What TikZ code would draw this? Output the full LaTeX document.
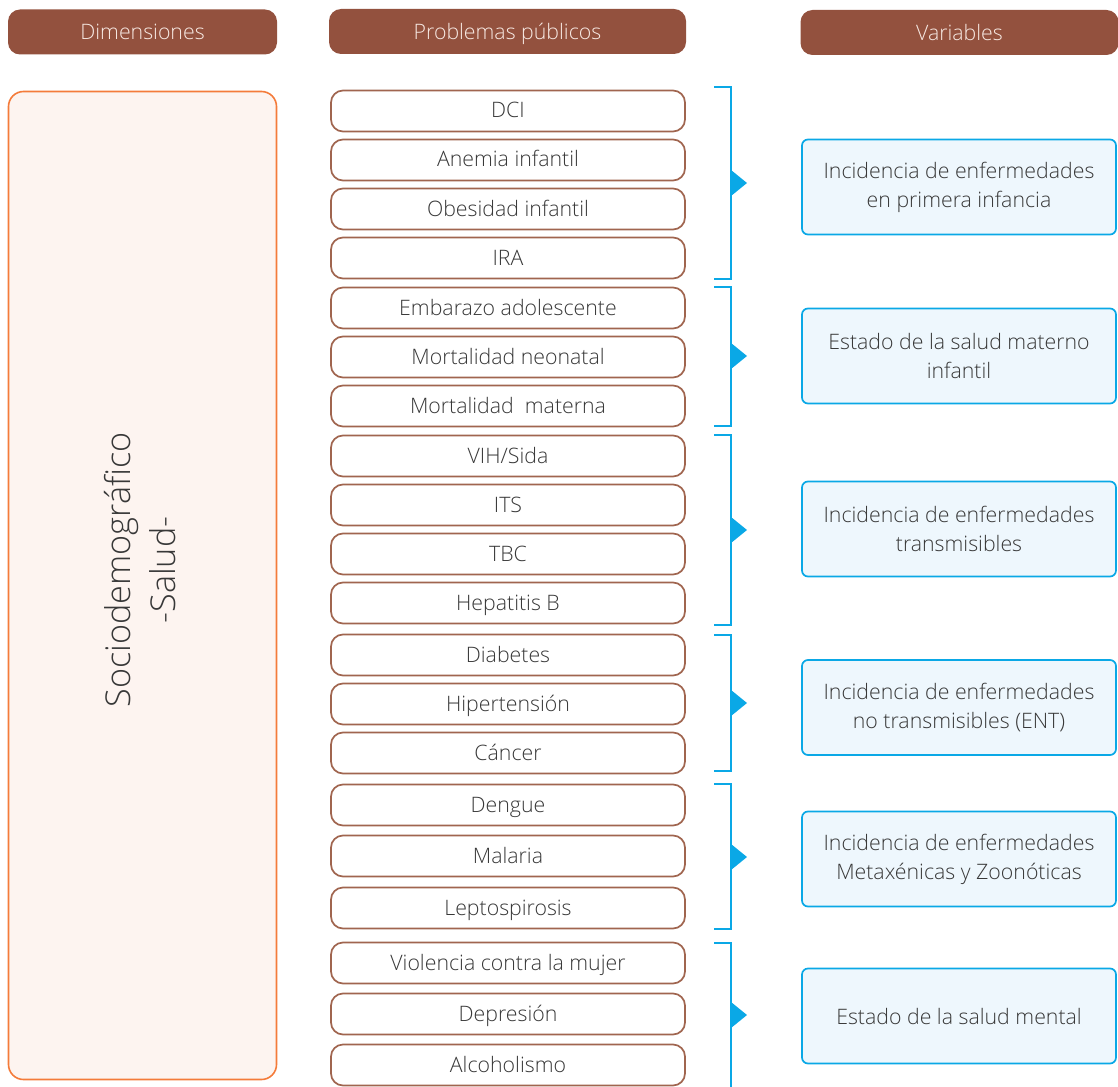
\documentclass[tikz,border=0pt]{standalone}
\usepackage{fontspec}
\setmainfont{Open Sans Light}
\usetikzlibrary{calc}
\definecolor{hdr}{HTML}{93513E}
\definecolor{hdrtxt}{HTML}{F7E9E3}
\definecolor{pbord}{HTML}{A0654F}
\definecolor{dimbord}{HTML}{F47B3A}
\definecolor{dimfill}{HTML}{FDF4F0}
\definecolor{blu}{HTML}{0AA8E6}
\definecolor{vfill}{HTML}{EEF7FD}
\definecolor{txt}{HTML}{383838}
\begin{document}
\begin{tikzpicture}[x=1pt,y=-1pt,
  hdrbox/.style={fill=hdr, rounded corners=12pt, minimum height=45pt, inner sep=0pt, text height=16pt, text depth=0pt, text=hdrtxt, font=\fontsize{21.3}{25}\selectfont},
  dimbox/.style={draw=dimbord, fill=dimfill, line width=1.6pt, rounded corners=15pt, minimum width=268pt, minimum height=988pt, inner sep=0pt},
  probbox/.style={draw=pbord, line width=1.7pt, fill=white, rounded corners=12pt, minimum width=354pt, minimum height=41pt, inner sep=0pt, text height=14pt, text depth=0pt, text=txt, font=\fontsize{21.3}{25}\selectfont},
  varbox/.style={draw=blu, line width=1.7pt, fill=vfill, rounded corners=6pt, minimum width=314pt, minimum height=95pt, inner sep=0pt, align=center, text=txt, font=\fontsize{21.3}{29}\selectfont},
  brk/.style={draw=blu, line width=1.8pt},
  tri/.style={fill=blu}]
\useasboundingbox (0,0) rectangle (1118,1086);

% headers
\node[hdrbox, minimum width=269pt] (h1) at (142.5,32) {Dimensiones};
\node[hdrbox, minimum width=357pt] (h2) at (507.5,31.5) {Problemas públicos};
\node[hdrbox, minimum width=318pt] (h3) at (959.5,32.5) {Variables};

% dimension box
\node[dimbox] (dim) at (142.5,585.5) {};
\node[rotate=90, align=center, text=txt, font=\fontsize{34.2}{45}\selectfont] (dimtxt) at (140,570) {Sociodemográfico\\-Salud-};

% problem boxes
\foreach \n/\y/\t in {
  p1/111/DCI, p2/160/Anemia infantil, p3/209/Obesidad infantil, p4/258/IRA,
  p5/308/Embarazo adolescente, p6/357/Mortalidad neonatal, p7/406/Mortalidad\ \ materna,
  p8/456/{VIH/Sida}, p9/505/ITS, p10/554/TBC, p11/603/Hepatitis B,
  p12/655/Diabetes, p13/704/Hipertensión, p14/753/Cáncer,
  p15/805/Dengue, p16/856/Malaria, p17/908/Leptospirosis,
  p18/963/Violencia contra la mujer, p19/1014/Depresión, p20/1065/Alcoholismo}
  \node[probbox] (\n) at (508,\y) {\t};

% variable boxes
\node[varbox] (v1) at (959,187) {Incidencia de enfermedades\\en primera infancia};
\node[varbox] (v2) at (959,356) {Estado de la salud materno\\infantil};
\node[varbox] (v3) at (959,529) {Incidencia de enfermedades\\transmisibles};
\node[varbox] (v4) at (959,707.5) {Incidencia de enfermedades\\no transmisibles (ENT)};
\node[varbox] (v5) at (959,859) {Incidencia de enfermedades\\Metaxénicas y Zoonóticas};
\node[varbox] (v6) at (959,1016) {Estado de la salud mental};

% brackets
\foreach \a/\b in {87/279, 287/426, 435/625, 635/771, 784/929}
  \draw[brk] (714,\a) -- (731,\a) -- (731,\b) -- (714,\b);
\draw[brk] (714,943) -- (731,943) -- (731,1090);

% triangles
\foreach \c in {183,356,530,703,857,1015}
  \fill[tri] (731,\c-13) -- (747,\c) -- (731,\c+13) -- cycle;
\end{tikzpicture}
\end{document}
